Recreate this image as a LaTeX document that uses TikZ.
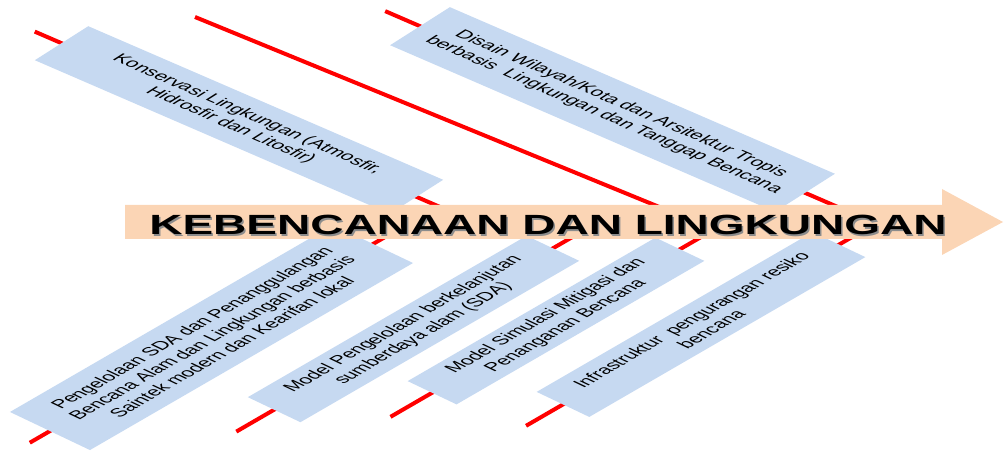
\documentclass[tikz,border=0pt]{standalone}
\usepackage{fontspec}
\setmainfont{Liberation Sans}
\usetikzlibrary{calc,backgrounds}
\definecolor{boxblue}{HTML}{C6D9F1}
\definecolor{peach}{HTML}{FBD5B5}
\begin{document}
\begin{tikzpicture}[x=1pt, y=-1.904762pt, yscale=0.525,
  bone/.style={red, line width=4pt},
  cause/.style={fill=boxblue, transform shape, align=center, inner sep=0pt,
    font=\fontsize{23}{27}\selectfont},
  upcause/.style={cause, rotate=-39.5},
  lowcause/.style={cause, rotate=47.8},
  titletext/.style={font=\bfseries\fontsize{46}{50}\selectfont, transform shape, yscale=1.15, inner sep=0pt}]
\useasboundingbox (0,0) rectangle (1004,453);
% upper causes
\node[upcause, minimum width=460pt, minimum height=84pt] (konservasi) at (239,120)
  {Konservasi Lingkungan (Atmosfir,\\Hidrosfir dan Litosfir)};
\node[upcause, minimum width=499pt, minimum height=94pt] (disain) at (612.5,109.5)
  {Disain Wilayah/Kota dan Arsitektur Tropis\\berbasis~ Lingkungan dan Tanggap Bencana};
% lower causes
\node[lowcause, minimum width=481pt, minimum height=108pt] (sda) at (211.5,337.5)
  {Pengelolaan SDA dan Penanggulangan\\Bencana Alam dan Lingkungan berbasis\\Saintek modern dan Kearifan lokal};
\node[lowcause, minimum width=415pt, minimum height=71pt] (model) at (413.5,329)
  {Model Pengelolaan berkelanjutan\\sumberdaya alam (SDA)};
\node[lowcause, minimum width=369pt, minimum height=66pt] (simulasi) at (556,321)
  {Model Simulasi Mitigasi dan\\Penanganan Bencana};
\node[lowcause, minimum width=411pt, minimum height=71pt] (infra) at (701,324.5)
  {Infrastruktur~ pengurangan resiko\\bencana};
% bones
\coordinate (tulang) at (195,17);
\coordinate (duri) at (696,222);
\begin{scope}[on background layer]
\draw[bone] ($(konservasi.west)!-0.075!(konservasi.east)$) -- ($(konservasi.west)!1.16!(konservasi.east)$);
\draw[bone] (tulang) -- (duri);
\draw[bone] ($(disain.west)!-0.09!(disain.east)$) -- ($(disain.west)!1.17!(disain.east)$);
\draw[bone] ($(sda.west)!-0.062!(sda.east)$) -- ($(sda.west)!1.12!(sda.east)$);
\draw[bone] ($(model.west)!-0.135!(model.east)$) -- ($(model.west)!1.16!(model.east)$);
\draw[bone] ($(simulasi.west)!-0.167!(simulasi.east)$) -- ($(simulasi.west)!1.19!(simulasi.east)$);
\draw[bone] ($(infra.west)!-0.133!(infra.east)$) -- ($(infra.west)!1.14!(infra.east)$);
\end{scope}
% spine
\fill[peach] (125,205) -- (942,205) -- (942,189) -- (1003,222) -- (942,255) -- (942,239) -- (125,239) -- cycle;
\node[titletext, black!45] (bayang) at (549.5,226.5) {KEBENCANAAN DAN LINGKUNGAN};
\node[titletext] (judul) at (548,225) {KEBENCANAAN DAN LINGKUNGAN};
\end{tikzpicture}
\end{document}
